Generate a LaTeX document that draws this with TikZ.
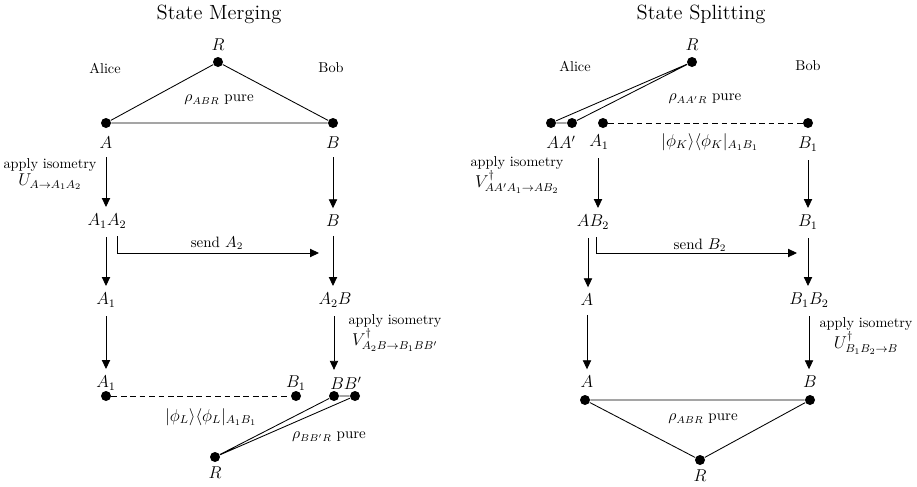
\documentclass[tikz,border=0pt]{standalone}
\usepackage{amsmath}
\usepackage{amssymb}
\usetikzlibrary{arrows.meta,positioning}

\tikzset{
  dot/.style = {circle, fill, inner sep=0pt, minimum size=7pt},
  lab/.style = {inner sep=0pt, font=\fontsize{11.5}{14}\selectfont},
  txt/.style = {inner sep=1pt, align=center, font=\normalsize},
  rho/.style = {inner sep=1pt, font=\fontsize{10.5}{13}\selectfont},
  ttl/.style = {font=\Large},
  arr/.style = {-{Triangle[length=6.3pt,width=5.8pt]}},
  flow/.style = {arr, shorten <=6pt, shorten >=4.5pt},
  ent/.style = {dash pattern=on 4pt off 2.6pt},
}

\begin{document}
\begin{tikzpicture}[x=0.7pt, y=-0.7pt, line width=0.6pt]
  \useasboundingbox (0,0) rectangle (917,486);

  % state merging
  \node[ttl] (mT) at (219,14) {State Merging};
  \node[dot] (mR) at (218,62) {};
  \node[dot] (mA) at (106,123) {};
  \node[dot] (mB) at (333,123) {};
  \node[lab, above=4pt of mR] (mRl) {$R$};
  \node[lab, below=5.5pt of mA] (mAl) {$A$};
  \node[lab, below=5.5pt of mB] (mBl) {$B$};
  \node[txt] (mAlice) at (105,68) {Alice};
  \node[txt] (mBob) at (331,68) {Bob};
  \node[rho] (mrho) at (219,100) {$\rho_{ABR}$ pure};
  \draw (mA) -- (mR) -- (mB) -- (mA);

  \node[lab] (m2a) at (107,221) {$A_1A_2$};
  \node[lab] (m2b) at (333,221) {$B$};
  \node[lab] (m3a) at (106,300) {$A_1$};
  \node[lab] (m3b) at (335,300) {$A_2B$};
  \node[txt] (miso) at (50,174) {apply isometry\\
    {\fontsize{11.5}{14}\selectfont$U_{A\rightarrow A_1A_2}$}};
  \node[txt] (mV) at (395,333) {apply isometry\\
    {\fontsize{11.5}{14}\selectfont$V^{\dagger}_{A_2B\rightarrow B_1BB'}$}};
  \node[rho] (msend) at (217,243) {send $A_2$};

  \draw[flow] (mAl.south) -- (mAl.south |- m2a.north);
  \draw[flow] (mBl.south) -- (mBl.south |- m2b.north);
  \draw[flow] ([xshift=-0.7pt]m2a.south) -- ([xshift=-0.7pt]m2a.south |- m3a.north);
  \draw[flow] (m2b.south) -- (m2b.south |- m3b.north);
  \coordinate (mS) at (319,253);
  \draw[arr] ([xshift=7pt,yshift=-5.5pt]m2a.south) |- (mS);

  \node[dot] (mA1) at (106,396) {};
  \node[dot] (mB1) at (296,396) {};
  \node[dot] (mBb) at (334,396) {};
  \node[dot] (mBp) at (355,396) {};
  \node[dot] (mR2) at (215,457) {};
  \node[lab] (m4a) at (106,383) {$A_1$};
  \node[lab] (m4c) at (296,383) {$B_1$};
  \node[lab] (m4b) at (346,383) {$BB'$};
  \node[lab, below=3pt of mR2] (mR2l) {$R$};
  \draw[flow] (m3a.south) -- (m3a.south |- m4a.north);
  \draw[flow] ([xshift=-0.7pt]m3b.south) -- ([xshift=-0.7pt]m3b.south |- m4b.north);

  \draw[ent] (mA1) -- (mB1);
  \draw (mR2) -- (mBb) -- (mBp) -- (mR2);
  \node[lab] (mphi) at (211,417) {$|\phi_L\rangle\langle\phi_L|_{A_1B_1}$};
  \node[rho] (mrho2) at (329,437) {$\rho_{BB'R}$ pure};

  % state splitting
  \node[ttl] (sT) at (701,14) {State Splitting};
  \node[dot] (sR) at (692,62) {};
  \node[dot] (sA) at (551,123) {};
  \node[dot] (sAp) at (572,123) {};
  \node[dot] (sA1) at (603,123) {};
  \node[dot] (sB1) at (808,123) {};
  \node[lab, above=4pt of sR] (sRl) {$R$};
  \node[txt] (sAlice) at (575,66) {Alice};
  \node[txt] (sBob) at (808,66) {Bob};
  \node[rho] (srho) at (705,99) {$\rho_{AA'R}$ pure};
  \draw (sA) -- (sR) -- (sAp) -- (sA);
  \draw[ent] (sA1) -- (sB1);

  \node[lab] (sAAl) at (561,142) {$AA'$};
  \node[lab] (sA1l) at (599,142) {$A_1$};
  \node[lab, below=5.5pt of sB1] (sB1l) {$B_1$};
  \node[lab] (sphi) at (710,142) {$|\phi_K\rangle\langle\phi_K|_{A_1B_1}$};
  \node[txt] (siso) at (517,175) {apply isometry\\
    {\fontsize{11.5}{14}\selectfont$V^{\dagger}_{AA'A_1\rightarrow AB_2}$}};

  \node[lab] (s2a) at (593,222) {$AB_2$};
  \node[lab] (s2b) at (808,222) {$B_1$};
  \node[lab] (s3a) at (587,300) {$A$};
  \node[lab] (s3b) at (809,300) {$B_1B_2$};
  \node[rho] (ssend) at (700,245) {send $B_2$};
  \node[txt] (sU) at (866,336) {apply isometry\\
    {\fontsize{11.5}{14}\selectfont$U^{\dagger}_{B_1B_2\rightarrow B}$}};

  \draw[flow] ([xshift=-0.7pt]sA1l.south) -- ([xshift=-0.7pt]sA1l.south |- s2a.north);
  \draw[flow] (sB1l.south) -- (sB1l.south |- s2b.north);
  \draw[flow] ([xshift=-3.5pt]s2a.south) -- ([xshift=-3.5pt]s2a.south |- s3a.north);
  \draw[flow] (s2b.south) -- (s2b.south |- s3b.north);
  \coordinate (sS) at (797,253);
  \draw[arr] ([xshift=2.1pt,yshift=-5.5pt]s2a.south) |- (sS);

  \node[lab] (s4a) at (587,382) {$A$};
  \node[lab] (s4b) at (810,382) {$B$};
  \draw[flow] (s3a.south) -- (s3a.south |- s4a.north);
  \draw[flow] (s3b.south) -- (s3b.south |- s4b.north);

  \node[dot] (sAd) at (585,400) {};
  \node[dot] (sBd) at (810,400) {};
  \node[dot] (sR2) at (700,460) {};
  \node[lab, below=3pt of sR2] (sR2l) {$R$};
  \draw (sAd) -- (sBd) -- (sR2) -- (sAd);
  \node[rho] (srho2) at (703,419) {$\rho_{ABR}$ pure};
\end{tikzpicture}
\end{document}
